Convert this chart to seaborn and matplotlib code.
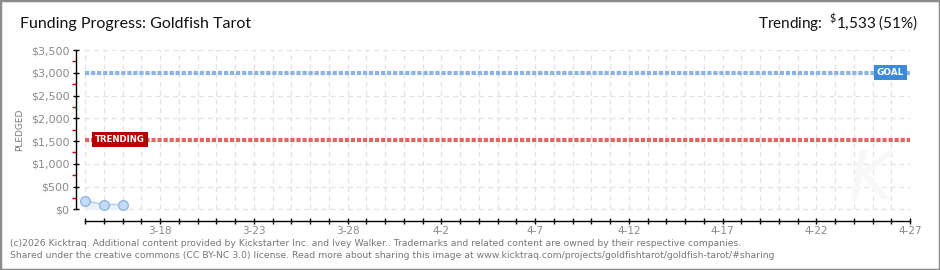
import matplotlib
matplotlib.use("Agg")
import matplotlib.pyplot as plt
import matplotlib.dates as mdates
from matplotlib import font_manager
from matplotlib.patches import Rectangle
import seaborn as sns
import pandas as pd
import numpy as np

# ---- data ----
dates = ["2026-03-14", "2026-03-15", "2026-03-16"]
pledged = [190, 105, 105]
goal = 3000
trending = 1533
trending_pct = 51
start_date = "2026-03-14"
end_date = "2026-04-27"
title = "Funding Progress: Goldfish Tarot"
footer1 = ("(c)2026 Kicktraq. Additional content provided by Kickstarter Inc. and Ivey Walker.. "
           "Trademarks and related content are owned by their respective companies.")
footer2 = ("Shared under the creative commons (CC BY-NC 3.0) license. Read more about sharing this "
           "image at www.kicktraq.com/projects/goldfishtarot/goldfish-tarot/#sharing")

sns.set_theme(style="white")
plt.rcParams["font.family"] = ["DejaVu Sans"]
plt.rcParams["mathtext.default"] = "regular"

avail = {f.name for f in font_manager.fontManager.ttflist}
title_font = "Lato" if "Lato" in avail else "Liberation Sans"
plt.rcParams["mathtext.fontset"] = "custom"
plt.rcParams["mathtext.rm"] = title_font

df = pd.DataFrame({"date": pd.to_datetime(dates), "pledged": pledged})
t0 = pd.Timestamp(start_date)
t1 = pd.Timestamp(end_date)

fig = plt.figure(figsize=(9.4, 2.7), dpi=100)
fig.patch.set_facecolor("white")
ax = fig.add_axes([75.7 / 940, 1 - 220.7 / 270, (910 - 75.7) / 940, (220.7 - 50) / 270])
ax.set_facecolor("white")

ax.set_xlim(t0 - pd.Timedelta(hours=12), t1)
ax.set_ylim(-250, 3500)

# grid
yt = np.arange(0, 3501, 500)
days = pd.date_range(t0, t1, freq="D")
ax.hlines(yt, t0, t1, colors="#e2e2e2", linestyles=(0, (4, 3)), linewidth=0.9, zorder=0)
ax.vlines(days, 0, 3500, colors="#e2e2e2", linestyles=(0, (4, 3)), linewidth=0.9, zorder=0)

# goal / trending lines
ax.hlines([goal], t0, t1, colors="#8db3e2", linestyles=(0, (1.0, 0.45)), linewidth=3.0, zorder=2)
ax.hlines([trending], t0, t1, colors="#e06666", linestyles=(0, (1.0, 0.45)), linewidth=3.0, zorder=2)

# data
ax.fill_between(df["date"], 0, df["pledged"], color="#eaf2fc", zorder=1, linewidth=0)
sns.lineplot(data=df, x="date", y="pledged", ax=ax, color="#b7d3f2", linewidth=1.2,
             marker="o", markersize=7, markerfacecolor="#c3dbf7", markeredgecolor="#8eb2dc",
             markeredgewidth=0.9, zorder=3)
ax.set_xlabel("")
ax.set_ylabel("")

# labels on lines
ax.annotate("GOAL", xy=(t1, goal), xytext=(-6, 0), textcoords="offset pixels",
            ha="right", va="center", color="white", fontsize=6.4, fontweight="bold",
            bbox=dict(boxstyle="square,pad=0.32", fc="#3d8ad9", ec="none"), zorder=5)
ax.annotate("TRENDING", xy=(t0, trending), xytext=(10, 0), textcoords="offset pixels",
            ha="left", va="center", color="white", fontsize=6.2, fontweight="bold",
            bbox=dict(boxstyle="square,pad=0.32", fc="#b80000", ec="none"), zorder=5)

# spines
for s in ["top", "right"]:
    ax.spines[s].set_visible(False)
ax.spines["left"].set_bounds(0, 3500)
ax.spines["bottom"].set_bounds(mdates.date2num(t0), mdates.date2num(t1))
for s in ["left", "bottom"]:
    ax.spines[s].set_color("black")
    ax.spines[s].set_linewidth(1.0)

# y ticks
ax.set_yticks(yt)
ax.set_yticklabels(["\\$" + f"{v:,}" for v in yt])
ax.set_yticks(np.arange(250, 3500, 500), minor=True)
ax.tick_params(axis="y", which="major", direction="inout", length=5, width=1, color="black",
               labelsize=8, labelcolor="#8a8a8a", pad=2, left=True)
ax.tick_params(axis="y", which="minor", direction="out", length=3, width=1, color="#dd0000", left=True)

# x ticks
label_days = pd.date_range(t0 + pd.Timedelta(days=4), t1, freq="5D")
ax.set_xticks(label_days)
ax.set_xticklabels([f"{d.month}-{d.day}" for d in label_days])
ax.set_xticks(days, minor=True)
ax.tick_params(axis="x", which="both", direction="inout", length=5, width=1, color="black",
               labelsize=7.5, labelcolor="#8a8a8a", pad=1.5, bottom=True)

# titles and texts
fig.text(20 / 940, 1 - 24 / 270, title, fontsize=11.5, family=title_font, color="#111111",
         ha="left", va="center")
fig.text(918 / 940, 1 - 23 / 270, "Trending:  $^{\\$}$1,533 (" + f"{trending_pct}" + "%)",
         fontsize=11, family=title_font, color="#111111", ha="right", va="center")
fig.text(20 / 940, 1 - 130 / 270, "PLEDGED", rotation=90, fontsize=6.5, color="#777777",
         ha="center", va="center")
fig.text(10 / 940, 1 - 243 / 270, footer1, fontsize=6.7, color="#777777", ha="left", va="center")
fig.text(10 / 940, 1 - 256 / 270, footer2, fontsize=6.7, color="#777777", ha="left", va="center")

# faint watermark
fig.text(870 / 940, 1 - 180 / 270, "K", fontsize=48, color="#f8f8f8", ha="center", va="center",
         style="italic", zorder=0)

# border
fig.patches.append(Rectangle((0, 0), 1, 1, transform=fig.transFigure, fill=False,
                             edgecolor="#8c8c8c", linewidth=2.5, zorder=10))

fig.savefig("out.png", dpi=100, facecolor="white")
